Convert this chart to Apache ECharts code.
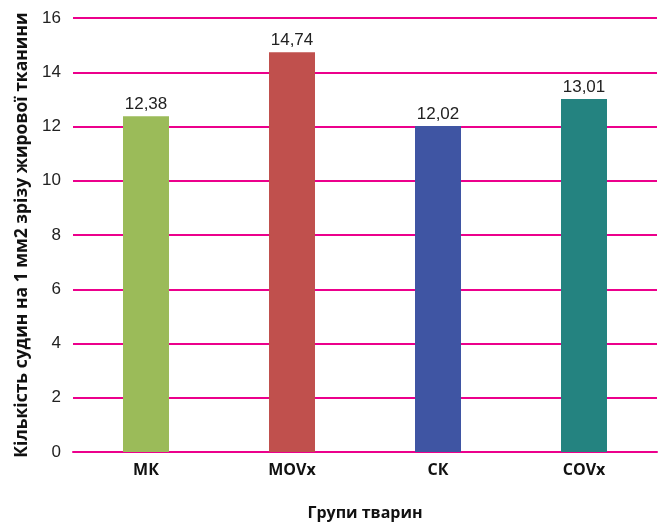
<!DOCTYPE html>
<html>
<head>
<meta charset="utf-8">
<script src="https://cdn.jsdelivr.net/npm/echarts@6/dist/echarts.min.js"></script>
<style>
  html, body { margin: 0; padding: 0; background: #fff; }
  #chart { width: 659px; height: 523px; }
</style>
</head>
<body>
<div id="chart"></div>
<script>
// Vessel count per 1 mm2 of adipose tissue section, by animal group
const categories = ['МК', 'MOVx', 'СК', 'COVx'];
const values = [12.38, 14.74, 12.02, 13.01];
const barColors = ['#9BBB59', '#C0504D', '#3F55A3', '#248380'];
const yTicks = [0, 2, 4, 6, 8, 10, 12, 14, 16];

const narrow = '"Liberation Sans Narrow", "Arial Narrow", "Liberation Sans", sans-serif';
const bold = '"Open Sans", "Noto Sans", sans-serif';

const chart = echarts.init(document.getElementById('chart'));
chart.setOption({
  animation: false,
  grid: { left: 73, right: 2, top: 18, bottom: 71, outerBoundsMode: 'none', containLabel: false },
  xAxis: {
    type: 'category',
    data: categories,
    name: 'Групи тварин',
    nameLocation: 'middle',
    nameGap: 53,
    nameTextStyle: { fontFamily: bold, fontWeight: 'bold', fontSize: 16, color: '#111' },
    axisLine: { show: true, lineStyle: { color: '#EC008C', width: 2 } },
    axisTick: { show: false },
    axisLabel: { fontFamily: bold, fontWeight: 'bold', fontSize: 16, color: '#111', margin: 10 }
  },
  yAxis: {
    type: 'value',
    min: yTicks[0],
    max: yTicks[yTicks.length - 1],
    interval: 2,
    name: 'Кількість судин на 1 мм2 зрізу жирової тканини',
    nameLocation: 'middle',
    nameGap: 40,
    nameTextStyle: { fontFamily: bold, fontWeight: 'bold', fontSize: 17.5, color: '#111' },
    axisLine: { show: false },
    axisTick: { show: false },
    axisLabel: { fontFamily: narrow, fontSize: 17, color: '#222', margin: 12 },
    splitLine: { show: true, lineStyle: { color: '#EC008C', width: 2 } }
  },
  series: [{
    type: 'bar',
    barWidth: 46,
    data: values.map((v, i) => ({ value: v, itemStyle: { color: barColors[i] } })),
    label: {
      show: true,
      position: 'top',
      distance: 3,
      fontFamily: narrow,
      fontSize: 17,
      color: '#222',
      formatter: p => p.value.toFixed(2).replace('.', ',')
    }
  }]
});
</script>
</body>
</html>
